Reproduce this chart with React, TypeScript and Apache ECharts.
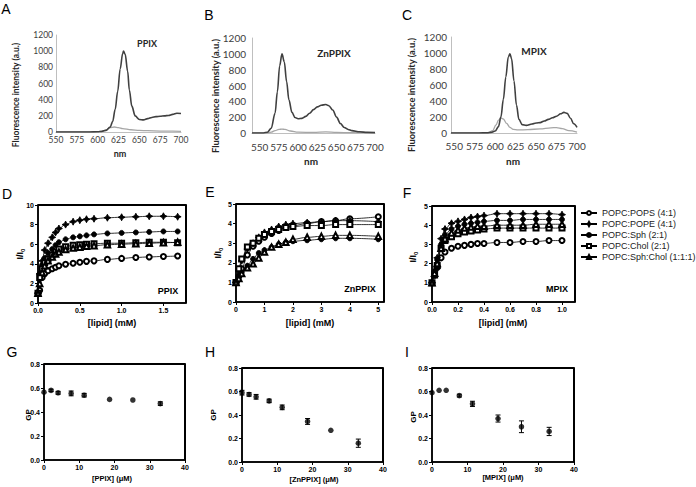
import React, { useEffect, useRef } from "react";
import * as echarts from "echarts";

// ---------- Top row: emission spectra ----------
const A_DARK_NM = [550, 570, 590, 600, 605, 610, 615, 618, 621, 624, 627, 630, 631, 633, 636, 638, 641, 645, 650, 655, 660, 665, 670, 675, 680, 685, 690, 695, 700];
const A_DARK_VAL = [0, 0, 0, 3, 8, 20, 60, 130, 280, 500, 780, 970, 1000, 960, 750, 520, 320, 200, 155, 150, 165, 180, 190, 195, 200, 205, 218, 232, 228];
const A_GREY_NM = [550, 600, 605, 610, 615, 620, 625, 630, 640, 650, 660, 675, 690, 700];
const A_GREY_VAL = [0, 0, 5, 25, 55, 62, 55, 42, 28, 20, 16, 12, 10, 8];

const B_DARK_NM = [540, 555, 560, 565, 570, 573, 576, 579, 582, 585, 588, 592, 596, 600, 605, 610, 615, 620, 625, 630, 636, 640, 645, 650, 655, 660, 665, 670, 680, 690, 700];
const B_DARK_VAL = [0, 0, 10, 60, 250, 520, 850, 1000, 900, 650, 420, 260, 195, 180, 185, 210, 250, 295, 330, 350, 360, 345, 290, 200, 120, 70, 45, 30, 15, 8, 5];
const B_GREY_NM = [540, 560, 565, 570, 575, 579, 583, 590, 600, 620, 636, 650, 670, 700];
const B_GREY_VAL = [0, 0, 10, 30, 45, 50, 45, 25, 10, 8, 14, 8, 4, 2];

const C_DARK_NM = [546, 580, 590, 595, 600, 604, 607, 610, 613, 616, 618, 620, 623, 626, 629, 633, 638, 645, 650, 655, 660, 665, 670, 675, 680, 684, 688, 692, 696, 700];
const C_DARK_VAL = [0, 0, 2, 8, 25, 80, 200, 420, 700, 950, 990, 930, 650, 350, 170, 105, 95, 112, 125, 130, 150, 170, 190, 210, 240, 258, 245, 185, 115, 70];
const C_GREY_NM = [546, 585, 592, 597, 601, 604, 607, 610, 614, 618, 622, 628, 640, 655, 668, 675, 682, 690, 700];
const C_GREY_VAL = [0, 0, 5, 30, 100, 160, 190, 175, 120, 70, 45, 38, 42, 52, 65, 68, 55, 30, 12];

const NM_TICKS = [550, 575, 600, 625, 650, 675, 700];

// ---------- Middle row: I/I0 vs lipid ----------
const LIPIDS = ["POPC:POPS (4:1)", "POPC:POPE (4:1)", "POPC:Sph (2:1)", "POPC:Chol (2:1)", "POPC:Sph:Chol (1:1:1)"];

const D_LIPID = [0, 0.02, 0.05, 0.08, 0.12, 0.17, 0.21, 0.25, 0.33, 0.42, 0.5, 0.58, 0.67, 0.83, 1.0, 1.17, 1.33, 1.5, 1.67];
const D_POPS = [1, 1.3, 2.6, 3.0, 3.3, 3.5, 3.65, 3.8, 3.95, 4.05, 4.15, 4.25, 4.3, 4.45, 4.55, 4.65, 4.7, 4.75, 4.8];
const D_POPE = [1, 3.0, 4.3, 5.4, 6.1, 6.7, 7.2, 7.6, 8.0, 8.3, 8.45, 8.55, 8.6, 8.7, 8.75, 8.8, 8.85, 8.85, 8.8];
const D_SPH = [1, 2.9, 3.9, 4.6, 5.1, 5.5, 5.9, 6.2, 6.5, 6.7, 6.8, 6.9, 7.0, 7.1, 7.15, 7.2, 7.25, 7.3, 7.3];
const D_CHOL = [1, 2.6, 3.5, 4.1, 4.5, 4.9, 5.2, 5.5, 5.75, 5.9, 5.95, 6.0, 6.05, 6.1, 6.1, 6.15, 6.2, 6.2, 6.15];
const D_SPHCHOL = [1, 2.0, 3.1, 3.8, 4.3, 4.7, 5.0, 5.2, 5.45, 5.6, 5.7, 5.8, 5.85, 5.95, 6.0, 6.05, 6.1, 6.15, 6.2];

const E_LIPID = [0, 0.1, 0.2, 0.4, 0.6, 0.8, 1.0, 1.25, 1.5, 1.75, 2.0, 2.5, 3.0, 3.5, 4.0, 5.0];
const E_POPS = [1, 1.3, 1.7, 2.4, 2.85, 3.1, 3.3, 3.5, 3.65, 3.8, 3.9, 4.0, 4.1, 4.15, 4.25, 4.35];
const E_POPE = [1, 1.6, 2.1, 2.7, 3.0, 3.3, 3.55, 3.7, 3.85, 3.95, 4.0, 4.05, 4.1, 4.15, 4.15, 4.1];
const E_SPH = [1, 1.3, 1.5, 1.85, 2.2, 2.5, 2.65, 2.8, 2.95, 3.05, 3.1, 3.15, 3.2, 3.25, 3.25, 3.2];
const E_CHOL = [1, 1.7, 2.2, 2.8, 3.0, 3.25, 3.45, 3.6, 3.7, 3.8, 3.85, 3.9, 3.9, 3.95, 3.95, 3.95];
const E_SPHCHOL = [1, 1.2, 1.45, 1.75, 1.95, 2.25, 2.55, 2.8, 2.95, 3.05, 3.2, 3.3, 3.35, 3.4, 3.4, 3.35];

const F_LIPID = [0, 0.02, 0.04, 0.07, 0.1, 0.15, 0.2, 0.25, 0.3, 0.35, 0.4, 0.5, 0.6, 0.7, 0.8, 0.9, 1.0];
const F_POPS = [1, 1.4, 1.8, 2.3, 2.6, 2.8, 2.9, 2.95, 3.0, 3.05, 3.05, 3.1, 3.1, 3.15, 3.15, 3.2, 3.2];
const F_POPE = [1, 1.6, 2.3, 3.3, 3.8, 4.1, 4.2, 4.3, 4.4, 4.45, 4.5, 4.6, 4.6, 4.6, 4.6, 4.6, 4.55];
const F_SPH = [1, 1.6, 2.2, 3.0, 3.5, 3.8, 3.95, 4.05, 4.1, 4.15, 4.2, 4.25, 4.25, 4.3, 4.3, 4.3, 4.3];
const F_CHOL = [1, 1.4, 1.9, 2.8, 3.2, 3.4, 3.55, 3.65, 3.7, 3.75, 3.8, 3.85, 3.85, 3.85, 3.85, 3.85, 3.85];
const F_SPHCHOL = [1, 1.5, 2.0, 2.8, 3.3, 3.6, 3.75, 3.85, 3.9, 3.95, 3.95, 4.0, 4.0, 4.0, 4.05, 4.05, 4.05];

// ---------- Bottom row: GP vs porphyrin ----------
const CONC = [0, 2, 4, 7.7, 11.4, 18.6, 25.2, 33];
const G_GP = [0.565, 0.58, 0.56, 0.555, 0.54, 0.505, 0.5, 0.47];
const G_ERR = [0, 0.01, 0.012, 0.02, 0.015, 0, 0, 0.015];
const H_GP = [0.59, 0.575, 0.555, 0.52, 0.465, 0.345, 0.27, 0.16];
const H_ERR = [0.02, 0.015, 0.02, 0.015, 0.02, 0.025, 0, 0.035];
const I_GP = [0.59, 0.61, 0.61, 0.565, 0.495, 0.37, 0.3, 0.26];
const I_ERR = [0, 0, 0, 0.012, 0.022, 0.03, 0.05, 0.035];

// axis maxima (x, y) of the six framed panels D–I
const FRAME_MAX = [[1.77, 10], [5.2, 5], [1.1, 5], [40, 0.8], [40, 0.8], [40, 0.8]];

const STAR = "path://M5,0 L6.7,3.3 L10,5 L6.7,6.7 L5,10 L3.3,6.7 L0,5 L3.3,3.3 Z";
const SYMBOLS = ["emptyCircle", STAR, "circle", "emptyRect", "emptyTriangle"];
const SYM_SIZE = [5, 7, 5, 5, 5.5];

const GP_FONT = "Liberation Sans, Arial, sans-serif";
const XL_FONT = "Lato, sans-serif";

export default function App() {
  const ref = useRef<HTMLDivElement>(null);
  useEffect(() => {
    if (!ref.current) return;
    const chart = echarts.init(ref.current, null, { renderer: "svg" });

    const pairs = (xs: number[], ys: number[]) => xs.map((x, i) => [x, ys[i]]);

    const grids = [
      { left: 56, top: 35, width: 125, height: 97 },
      { left: 252, top: 38, width: 123, height: 95 },
      { left: 451, top: 37, width: 126, height: 96 },
      { left: 38, top: 205, width: 148, height: 98 },
      { left: 236, top: 204, width: 148, height: 98 },
      { left: 432, top: 206, width: 143, height: 96 },
      { left: 44, top: 364, width: 141, height: 96 },
      { left: 242, top: 368, width: 141, height: 94 },
      { left: 432, top: 368, width: 142, height: 94 },
    ];

    const f1 = (v: number) => v.toFixed(1);
    const f0 = (v: number) => String(v);

    const spectX = (gi: number, min: number, fs: number, margin: number) => ({
      type: "value", gridIndex: gi, min, max: 700,
      axisLine: { show: true, onZero: false, lineStyle: { color: "#bfbfbf", width: 1 } },
      axisTick: { show: false },
      axisLabel: { fontSize: fs, fontFamily: XL_FONT, color: "#404040", margin, customValues: NM_TICKS, formatter: f0 },
      splitLine: { show: false },
    });
    const spectY = (gi: number, fs: number, margin: number) => ({
      type: "value", gridIndex: gi, min: 0, max: 1200, interval: 200,
      axisLine: { show: true, lineStyle: { color: "#bfbfbf", width: 1 } },
      axisTick: { show: false },
      axisLabel: { fontSize: fs, fontFamily: XL_FONT, color: "#404040", margin, formatter: f0 },
      splitLine: { show: false },
    });
    const gpAxis = (gi: number, min: number, max: number, ticks: number[], fmt: (v: number) => string) => ({
      type: "value", gridIndex: gi, min, max,
      axisLine: { show: true, onZero: false, lineStyle: { color: "#000", width: 1.5 } },
      axisTick: { show: true, length: 3, lineStyle: { color: "#000", width: 1 }, customValues: ticks },
      axisLabel: { fontSize: 7, fontWeight: "bold", fontFamily: GP_FONT, color: "#000", margin: 4, customValues: ticks, formatter: fmt },
      splitLine: { show: false },
    });

    const xAxis = [
      spectX(0, 550, 8.5, 3),
      spectX(1, 540, 10, 9),
      spectX(2, 546, 10, 8),
      gpAxis(3, 0, 1.77, [0, 0.5, 1, 1.5], f1),
      gpAxis(4, 0, 5.2, [0, 1, 2, 3, 4, 5], f0),
      gpAxis(5, 0, 1.1, [0, 0.2, 0.4, 0.6, 0.8, 1.0], f1),
      gpAxis(6, 0, 40, [0, 10, 20, 30, 40], f0),
      gpAxis(7, 0, 40, [0, 10, 20, 30, 40], f0),
      gpAxis(8, 0, 40, [0, 10, 20, 30, 40], f0),
    ];
    const yAxis = [
      spectY(0, 8.5, 3),
      spectY(1, 10, 6),
      spectY(2, 10, 4),
      gpAxis(3, 0, 10, [0, 2, 4, 6, 8, 10], f0),
      gpAxis(4, 0, 5, [0, 1, 2, 3, 4, 5], f0),
      gpAxis(5, 0, 5, [0, 1, 2, 3, 4, 5], f0),
      gpAxis(6, 0, 0.8, [0, 0.2, 0.4, 0.6, 0.8], f1),
      gpAxis(7, 0, 0.8, [0, 0.2, 0.4, 0.6, 0.8], f1),
      gpAxis(8, 0, 0.8, [0, 0.2, 0.4, 0.6, 0.8], f1),
    ];

    const series: any[] = [];

    // top and right edges of each GraphPad frame, as a plain line through the axis maxima
    FRAME_MAX.forEach((mx, k) => {
      const gi = k + 3;
      series.push({
        type: "line", name: "frame " + gi, xAxisIndex: gi, yAxisIndex: gi,
        data: [[0, mx[1]], [mx[0], mx[1]], [mx[0], 0]],
        symbol: "none", showSymbol: false, clip: false, silent: true, z: 6,
        lineStyle: { color: "#000", width: 2, opacity: 1 },
      });
    });

    const spect = (gi: number, name: string, xs: number[], ys: number[], color: string, w: number) =>
      series.push({
        type: "line", name, xAxisIndex: gi, yAxisIndex: gi, data: pairs(xs, ys),
        showSymbol: false, symbol: "none", smooth: 0.35, smoothMonotone: "x",
        lineStyle: { color, width: w }, z: color === "#404040" ? 3 : 2,
      });
    spect(0, "PPIX lipid", A_GREY_NM, A_GREY_VAL, "#a6a6a6", 1.3);
    spect(0, "PPIX buffer", A_DARK_NM, A_DARK_VAL, "#404040", 1.6);
    spect(1, "ZnPPIX lipid", B_GREY_NM, B_GREY_VAL, "#a6a6a6", 1.3);
    spect(1, "ZnPPIX buffer", B_DARK_NM, B_DARK_VAL, "#404040", 1.6);
    spect(2, "MPIX lipid", C_GREY_NM, C_GREY_VAL, "#a6a6a6", 1.3);
    spect(2, "MPIX buffer", C_DARK_NM, C_DARK_VAL, "#404040", 1.6);

    const bind = (gi: number, xs: number[], sets: number[][]) =>
      sets.forEach((ys, k) =>
        series.push({
          type: "line", name: LIPIDS[k], xAxisIndex: gi, yAxisIndex: gi, data: pairs(xs, ys),
          symbol: SYMBOLS[k], symbolSize: SYM_SIZE[k], symbolKeepAspect: true,
          smooth: 0.4, smoothMonotone: "x",
          lineStyle: { color: "#000", width: 0.8 },
          itemStyle: { color: "#000", borderColor: "#000", borderWidth: 0.9 },
        })
      );
    bind(3, D_LIPID, [D_POPS, D_POPE, D_SPH, D_CHOL, D_SPHCHOL]);
    bind(4, E_LIPID, [E_POPS, E_POPE, E_SPH, E_CHOL, E_SPHCHOL]);
    bind(5, F_LIPID, [F_POPS, F_POPE, F_SPH, F_CHOL, F_SPHCHOL]);

    const gp = (gi: number, name: string, ys: number[], errs: number[]) => {
      series.push({
        type: "custom", name: name + " error", xAxisIndex: gi, yAxisIndex: gi,
        data: CONC.map((c, i) => [c, ys[i], errs[i]]),
        encode: { x: 0, y: 1 },
        renderItem: (params: any, api: any) => {
          const x = api.value(0), y = api.value(1), e = api.value(2);
          if (!e) return { type: "group", children: [] };
          const t = api.coord([x, y + e]);
          const b = api.coord([x, y - e]);
          const w = 2.5;
          const style = { stroke: "#000", lineWidth: 1 };
          return {
            type: "group",
            children: [
              { type: "line", shape: { x1: t[0], y1: t[1], x2: b[0], y2: b[1] }, style },
              { type: "line", shape: { x1: t[0] - w, y1: t[1], x2: t[0] + w, y2: t[1] }, style },
              { type: "line", shape: { x1: b[0] - w, y1: b[1], x2: b[0] + w, y2: b[1] }, style },
            ],
          };
        },
      });
      series.push({
        type: "scatter", name, xAxisIndex: gi, yAxisIndex: gi,
        data: pairs(CONC, ys), symbol: "circle", symbolSize: 5.5,
        itemStyle: { color: "#000" }, z: 4,
      });
    };
    gp(6, "PPIX GP", G_GP, G_ERR);
    gp(7, "ZnPPIX GP", H_GP, H_ERR);
    gp(8, "MPIX GP", I_GP, I_ERR);

    const txt = (x: number, y: number, text: string, font: string, opts: any = {}) => ({
      type: "text", x, y, rotation: opts.rot || 0, silent: true,
      style: {
        text, font, fill: opts.fill || "#000",
        textAlign: "center", textVerticalAlign: "middle", align: "center", verticalAlign: "middle",
        rich: opts.rich,
      },
    });
    const R = Math.PI / 2;
    const letterFont = "14px Liberation Sans, Arial, sans-serif";
    const fluo = "Fluorescence intensity (a.u.)";
    const iiRich = {
      a: { font: "bold 9px Liberation Sans, Arial, sans-serif", fill: "#000" },
      b: { font: "bold 6px Liberation Sans, Arial, sans-serif", fill: "#000", padding: [5, 0, 0, 0] },
    };

    // frame outline of the six GraphPad plot areas (layout only)
    const frames = grids.slice(3).map((g) => ({
      type: "rect", silent: true, z: 100,
      shape: { x: g.left, y: g.top, width: g.width, height: g.height },
      style: { fill: "rgba(0,0,0,0)", stroke: "#000000", lineWidth: 1.5 },
    }));

    const graphic = [
      ...frames,
      txt(6, 9, "A", letterFont),
      txt(209, 15, "B", letterFont),
      txt(407, 15, "C", letterFont),
      txt(7, 194, "D", letterFont),
      txt(210, 192, "E", letterFont),
      txt(407, 193, "F", letterFont),
      txt(12, 352, "G", letterFont),
      txt(210, 352, "H", letterFont),
      txt(407, 352, "I", letterFont),

      txt(16, 95, fluo, "bold 8.5px Lato, sans-serif", { rot: R, fill: "#262626" }),
      txt(215, 96, fluo, "bold 9.3px Lato, sans-serif", { rot: R, fill: "#262626" }),
      txt(411, 95, fluo, "bold 9.3px Lato, sans-serif", { rot: R, fill: "#262626" }),
      txt(120, 153, "nm", "bold 9px Lato, sans-serif", { fill: "#262626" }),
      txt(311, 161, "nm", "bold 10px Lato, sans-serif", { fill: "#262626" }),
      txt(513, 161, "nm", "bold 10px Lato, sans-serif", { fill: "#262626" }),
      txt(147, 43, "PPIX", "bold 9px Lato, sans-serif", { fill: "#262626" }),
      txt(334, 53, "ZnPPIX", "bold 10px Lato, sans-serif", { fill: "#262626" }),
      txt(534, 51, "MPIX", "bold 10px Lato, sans-serif", { fill: "#262626" }),

      txt(20, 254, "{a|I/I}{b|0}", "bold 9px Liberation Sans, Arial", { rot: R, rich: iiRich }),
      txt(218, 253, "{a|I/I}{b|0}", "bold 9px Liberation Sans, Arial", { rot: R, rich: iiRich }),
      txt(413, 257, "{a|I/I}{b|0}", "bold 9px Liberation Sans, Arial", { rot: R, rich: iiRich }),
      txt(112, 323, "[lipid] (mM)", "bold 9px Liberation Sans, Arial, sans-serif"),
      txt(310, 323, "[lipid] (mM)", "bold 9px Liberation Sans, Arial, sans-serif"),
      txt(503, 323, "[lipid] (mM)", "bold 9px Liberation Sans, Arial, sans-serif"),
      txt(168, 291, "PPIX", "bold 9px Liberation Sans, Arial, sans-serif"),
      txt(360, 289, "ZnPPIX", "bold 9px Liberation Sans, Arial, sans-serif"),
      txt(557, 289, "MPIX", "bold 9px Liberation Sans, Arial, sans-serif"),

      txt(28, 415, "GP", "bold 8px Liberation Sans, Arial, sans-serif", { rot: R }),
      txt(213, 415, "GP", "bold 8px Liberation Sans, Arial, sans-serif", { rot: R }),
      txt(413, 417, "GP", "bold 8px Liberation Sans, Arial, sans-serif", { rot: R }),
      txt(112, 478, "[PPIX] (\u03bcM)", "bold 7.5px Liberation Sans, Arial, sans-serif"),
      txt(314, 479, "[ZnPPIX] (\u03bcM)", "bold 7.5px Liberation Sans, Arial, sans-serif"),
      txt(503, 477, "[MPIX] (\u03bcM)", "bold 7.5px Liberation Sans, Arial, sans-serif"),
    ];

    chart.setOption({
      animation: false,
      backgroundColor: "#fff",
      grid: grids,
      xAxis,
      yAxis,
      series,
      legend: {
        data: LIPIDS,
        orient: "vertical",
        left: 580,
        top: 207.5,
        itemWidth: 16,
        itemHeight: 5,
        itemGap: 0,
        padding: 0,
        selectedMode: false,
        textStyle: { fontSize: 9, fontFamily: GP_FONT, color: "#222", lineHeight: 11 },
      },
      graphic,
    });
    return () => chart.dispose();
  }, []);
  return <div ref={ref} style={{ position: "fixed", left: 0, top: 0, width: 696, height: 487 }} />;
}
